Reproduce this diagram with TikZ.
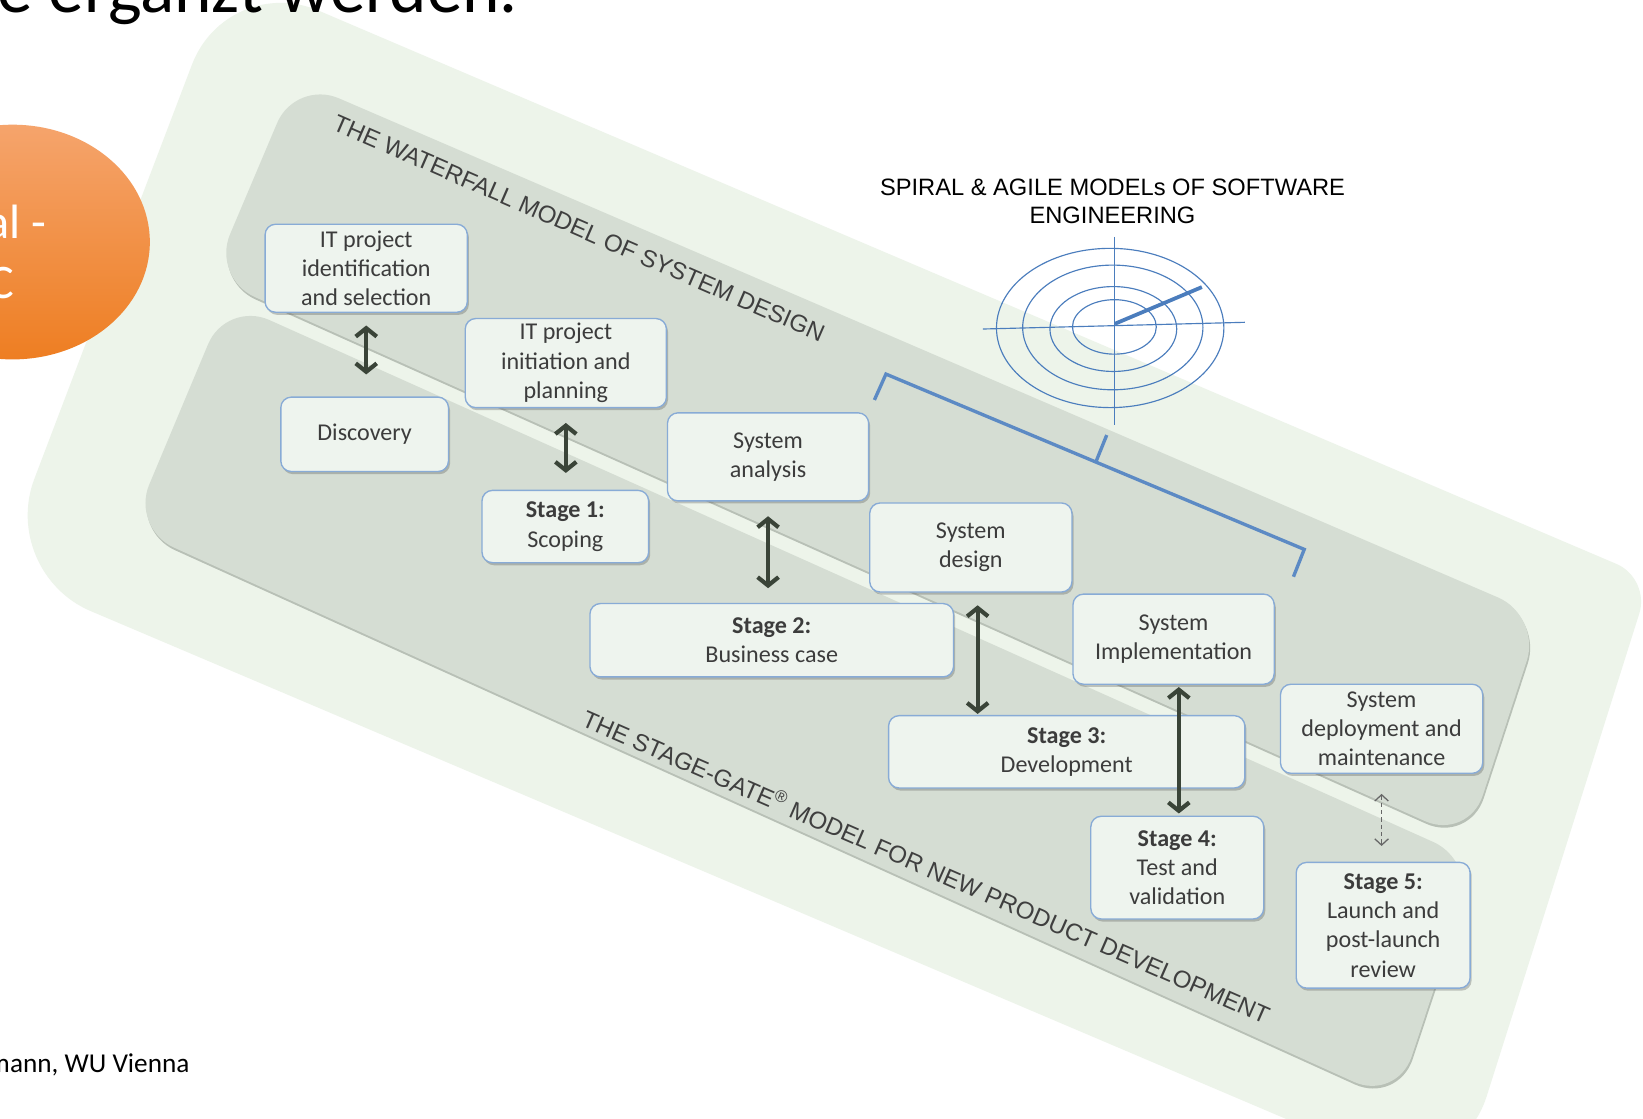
\documentclass[tikz,border=0pt]{standalone}
\usepackage{fontspec}
\setmainfont{Carlito}
\newfontfamily\arialf{Liberation Sans}
\usetikzlibrary{arrows.meta,shadows,calc}
\definecolor{outerfill}{HTML}{EDF4EA}
\definecolor{bandfill}{HTML}{D5DDD3}
\definecolor{bandrim}{HTML}{B8C0B6}
\definecolor{boxfill}{HTML}{EEF4EE}
\definecolor{boxline}{HTML}{88ABD6}
\definecolor{boxtext}{HTML}{3C3C3C}
\definecolor{arrowc}{HTML}{3A4438}
\definecolor{labelc}{HTML}{3F3F3F}
\definecolor{spiralc}{HTML}{4B7DBD}
\definecolor{bracketc}{HTML}{5C8AC4}
\definecolor{orangetop}{HTML}{F5A46C}
\definecolor{orangebot}{HTML}{EE7E22}

\begin{document}
\begin{tikzpicture}[x=1pt,y=-1pt,
  box/.style={draw=boxline, line width=1.3pt, fill=boxfill, rounded corners=10pt,
    align=center, text=boxtext, font=\fontsize{23}{28}\selectfont, inner sep=0pt,
    drop shadow={shadow xshift=1.5pt, shadow yshift=-2.5pt, opacity=0.3, fill=black!70}},
  link/.style={arrowc, line width=4pt,
    {Straight Barb[length=8pt,width=20pt]}-{Straight Barb[length=8pt,width=20pt]}},
  weaklink/.style={black!60, line width=1.2pt, dash pattern=on 4pt off 3pt,
    {Straight Barb[length=6pt,width=13pt]}-{Straight Barb[length=6pt,width=13pt]}},
  bandlabel/.style={font=\arialf\fontsize{23}{23}\selectfont, text=labelc, inner sep=0pt},
  spiral/.style={spiralc, line width=1.1pt},
  bracket/.style={bracketc, line width=3.2pt, line join=miter},
]
\useasboundingbox (0,0) rectangle (1568,1067);
\clip (0,0) rectangle (1568,1067);
\fill[white] (0,0) rectangle (1568,1067);

% outer light green panel
\fill[outerfill] (760,204.7) [rounded corners=35pt] -- (1575,552) -- (1481,850)
  [rounded corners=95pt] -- (1390,1137) -- (700,843.6) -- (-1,546) -- (89,309)
  -- (217,-27) -- cycle;

% waterfall band and stage-gate band, each with a darker rim below
\begin{scope}[shift={(1,2.5)}]
  \fill[bandrim, rounded corners=45pt] (282,76) -- (1471,588) -- (1401,802) -- (202,265) -- cycle;
  \fill[bandrim, rounded corners=45pt] (216,287) -- (1409,822) -- (1333,1051) -- (125,504) -- cycle;
\end{scope}
\fill[bandfill, rounded corners=45pt] (282,76) -- (1471,588) -- (1401,802) -- (202,265) -- cycle;
\fill[bandfill, rounded corners=45pt] (216,287) -- (1409,822) -- (1333,1051) -- (125,504) -- cycle;

% slide remnants
\shade[top color=orangetop, bottom color=orangebot] (12,231) ellipse [x radius=131pt, y radius=112pt];
\node[anchor=base east, text=white, font=\fontsize{46}{56}\selectfont, inner sep=0pt] (oa) at (44,228) {al -};
\node[anchor=base east, text=white, font=\fontsize{46}{56}\selectfont, inner sep=0pt] (ob) at (14,285) {C};
\node[anchor=base west, font=\fontsize{68}{74}\selectfont, inner sep=0pt] (head) at (-3,12)
  {e ergänzt werden.};
\node[anchor=base east, font=\fontsize{26}{30}\selectfont, inner sep=0pt] (foot) at (181,1024) {mann, WU Vienna};

% band titles
\node[bandlabel, rotate=-23.5] (wf) at (552.7,217.8) {THE WATERFALL MODEL OF SYSTEM DESIGN};
\node[bandlabel, rotate=-23.6] (sg) at (883.7,827.8) {THE STAGE-GATE\smash{\textsuperscript{®}} MODEL FOR NEW PRODUCT DEVELOPMENT};

% spiral & agile
\node[font=\arialf\fontsize{22.6}{27}\selectfont, align=center, inner sep=0pt] (sp) at (1061.7,192)
  {SPIRAL \& AGILE MODELs OF SOFTWARE\\ENGINEERING};
\draw[spiral] (1059.5,313) ellipse [x radius=108.5pt, y radius=76pt];
\draw[spiral] (1062,312.5) ellipse [x radius=86pt, y radius=59.5pt];
\draw[spiral] (1062.5,314) ellipse [x radius=60.5pt, y radius=40.5pt];
\draw[spiral] (1063.5,312) ellipse [x radius=40pt, y radius=26pt];
\draw[spiral] (1064,226) -- (1064,406);
\draw[spiral] (938,314) -- (1188,307.6);
\draw[spiralc, line width=3.6pt] (1064,309) -- (1147,274);

% bracket
\draw[bracket] (834.5,381.7) -- (845.5,357) -- (1244.7,524.3) -- (1234.4,550.4);
\draw[bracket] (1046.3,439.7) -- (1056.2,415.2);

% stages
\node[box, minimum width=193pt, minimum height=84pt] (ident) at (349.5,256) {IT project\\identification\\and selection};
\node[box, minimum width=160pt, minimum height=71pt] (disc) at (348,414.5) {Discovery};
\node[box, minimum width=192pt, minimum height=85pt] (init) at (540,346.5) {IT project\\initiation and\\planning};
\node[box, minimum width=159pt, minimum height=69pt] (st1) at (539.5,502.5) {\textbf{Stage 1:}\\Scoping};
\node[box, minimum width=192pt, minimum height=84pt] (ana) at (733,436) {System\\analysis};
\node[box, minimum width=347pt, minimum height=70pt] (st2) at (736.5,611) {\textbf{Stage 2:}\\Business case};
\node[box, minimum width=193pt, minimum height=85pt] (des) at (926.5,522.5) {System\\design};
\node[box, minimum width=340pt, minimum height=69pt] (st3) at (1018,717.5) {\textbf{Stage 3:}\\Development};
\node[box, minimum width=192pt, minimum height=86pt] (impl) at (1120,610) {System\\Implementation};
\node[box, minimum width=165pt, minimum height=98pt] (st4) at (1123.5,828) {\textbf{Stage 4:}\\Test and\\validation};
\node[box, minimum width=193pt, minimum height=85pt] (dep) at (1318.5,695.5) {System\\deployment and\\maintenance};
\node[box, minimum width=166pt, minimum height=120pt] (st5) at (1320,883) {\textbf{Stage 5:}\\Launch and\\post-launch\\review};

% links between the two models
\draw[link, shorten <=12pt, shorten >=21pt] (ident.south) -- (ident.south |- disc.north);
\draw[link, shorten <=14pt, shorten >=16pt] (init.south) -- (init.south |- st1.north);
\draw[link, shorten <=14pt, shorten >=14pt] (ana.south) -- (ana.south |- st2.north);
\draw[link, shorten <=12pt, shorten >=1pt] ([xshift=6.5pt]des.south) -- ([xshift=6.5pt]des.south |- st3.north);
\draw[link, shorten <=2pt, shorten >=2pt] ([xshift=5pt]impl.south) -- ([xshift=5pt]impl.south |- st4.north);
\draw[weaklink, shorten <=19pt, shorten >=15pt] (dep.south) -- (dep.south |- st5.north);
\end{tikzpicture}
\end{document}
